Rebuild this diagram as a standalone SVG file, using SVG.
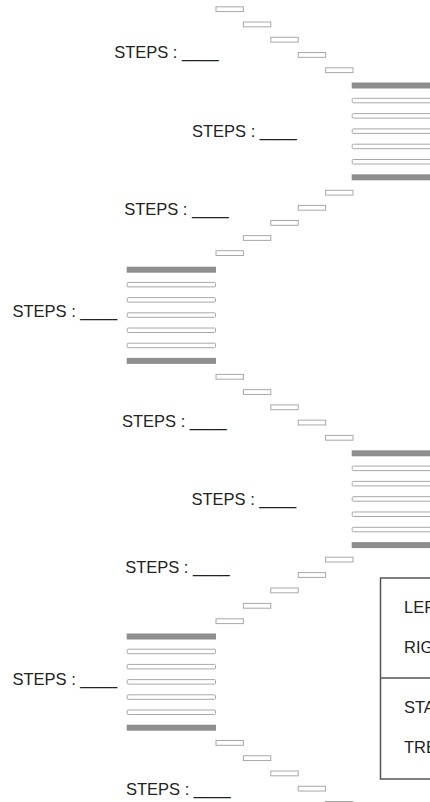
<svg xmlns="http://www.w3.org/2000/svg" width="430" height="802" viewBox="0 0 430 802">
<style>
.step{fill:#fff;stroke:#a8a8a8;stroke-width:1}
.tread{fill:#fff;stroke:#a8a8a8;stroke-width:1}
.edge{fill:#8e8e8e;stroke:none}
.lbl{font-family:"Liberation Sans",Arial,sans-serif;font-size:16.5px;fill:#222}
.box{fill:none;stroke:#555;stroke-width:1.5}
</style>
<rect width="430" height="802" fill="#fff"/>
<defs>
<rect id="st" class="step" width="27.4" height="4.8"/>
<g id="rland">
<rect class="edge" x="0" y="0" width="90" height="6"/>
<rect class="tread" x="0.5" y="15.8" width="90" height="4.5" rx="1"/>
<rect class="tread" x="0.5" y="31.1" width="90" height="4.5" rx="1"/>
<rect class="tread" x="0.5" y="46.4" width="90" height="4.5" rx="1"/>
<rect class="tread" x="0.5" y="61.7" width="90" height="4.5" rx="1"/>
<rect class="tread" x="0.5" y="77" width="90" height="4.5" rx="1"/>
<rect class="edge" x="0" y="91.8" width="90" height="6"/>
</g>
<g id="lland">
<rect class="edge" x="0" y="0" width="89.3" height="6"/>
<rect class="tread" x="0.5" y="15.7" width="88.3" height="4.5" rx="1"/>
<rect class="tread" x="0.5" y="30.9" width="88.3" height="4.5" rx="1"/>
<rect class="tread" x="0.5" y="46.1" width="88.3" height="4.5" rx="1"/>
<rect class="tread" x="0.5" y="61.3" width="88.3" height="4.5" rx="1"/>
<rect class="tread" x="0.5" y="76.5" width="88.3" height="4.5" rx="1"/>
<rect class="edge" x="0" y="91.2" width="89.3" height="6"/>
</g>
</defs>
<g id="flight1">
<use href="#st" x="216" y="6.8"/>
<use href="#st" x="243.4" y="22.05"/>
<use href="#st" x="270.8" y="37.3"/>
<use href="#st" x="298.2" y="52.55"/>
<use href="#st" x="325.6" y="67.8"/>
</g>
<g id="landing1"><use href="#rland" x="351.7" y="82.5"/></g>
<g id="flight2">
<use href="#st" x="325.6" y="190.3"/>
<use href="#st" x="298.2" y="205.4"/>
<use href="#st" x="270.8" y="220.5"/>
<use href="#st" x="243.4" y="235.6"/>
<use href="#st" x="216" y="250.7"/>
</g>
<g id="landing2"><use href="#lland" x="126.7" y="266.7"/></g>
<g id="flight3">
<use href="#st" x="216" y="374.4"/>
<use href="#st" x="243.4" y="389.65"/>
<use href="#st" x="270.8" y="404.9"/>
<use href="#st" x="298.2" y="420.15"/>
<use href="#st" x="325.6" y="435.4"/>
</g>
<g id="landing3"><use href="#rland" x="351.7" y="450.3"/></g>
<g id="flight4">
<use href="#st" x="325.6" y="557.2"/>
<use href="#st" x="298.2" y="572.6"/>
<use href="#st" x="270.8" y="588"/>
<use href="#st" x="243.4" y="603.4"/>
<use href="#st" x="216" y="618.8"/>
</g>
<g id="landing4"><use href="#lland" x="126.7" y="633.5"/></g>
<g id="flight5">
<use href="#st" x="216" y="740.5"/>
<use href="#st" x="243.4" y="755.75"/>
<use href="#st" x="270.8" y="771"/>
<use href="#st" x="298.2" y="786.25"/>
<use href="#st" x="325.6" y="801.5"/>
</g>
<g id="labels">
<text class="lbl" x="114.2" y="57.5">STEPS : ____</text>
<text class="lbl" x="192" y="136.7">STEPS : ____</text>
<text class="lbl" x="124.2" y="215">STEPS : ____</text>
<text class="lbl" x="12.5" y="316.5">STEPS : ____</text>
<text class="lbl" x="122" y="427">STEPS : ____</text>
<text class="lbl" x="191.5" y="505">STEPS : ____</text>
<text class="lbl" x="125.2" y="572.5">STEPS : ____</text>
<text class="lbl" x="12.5" y="684.5">STEPS : ____</text>
<text class="lbl" x="126" y="795">STEPS : ____</text>
</g>
<g id="legend">
<rect class="box" x="380.5" y="578" width="60" height="201"/>
<line x1="380.5" y1="678" x2="432" y2="678" stroke="#555" stroke-width="1.5"/>
<text class="lbl" x="404" y="613">LEF</text>
<text class="lbl" x="404" y="653">RIG</text>
<text class="lbl" x="404" y="713">STA</text>
<text class="lbl" x="404" y="753">TRE</text>
</g>
</svg>
